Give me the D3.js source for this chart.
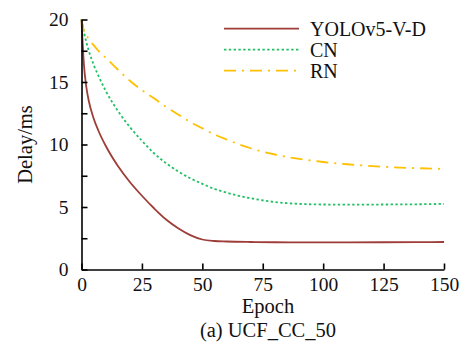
<!DOCTYPE html>
<html>
<head>
<meta charset="utf-8">
<script src="https://cdn.jsdelivr.net/npm/d3@7"></script>
<style>
  body { margin: 0; background: #fff; }
  svg { display: block; }
  text { font-family: "Liberation Serif", "Times New Roman", serif; fill: #111; }
</style>
</head>
<body>
<svg id="chart"></svg>
<script>
const width = 465;
const height = 343;

// epochs where each curve was read
const epochs = [0, 1, 2, 3, 5, 7, 10, 15, 20, 25, 30, 35, 40, 45, 50, 55, 60, 70, 80, 90, 100, 110, 125, 140, 150];

const yolo = [20, 16.4, 14.6, 13.5, 12.1, 11.1, 9.9, 8.3, 7.0, 5.9, 4.9, 4.0, 3.3, 2.75, 2.4, 2.28, 2.24, 2.2, 2.18, 2.17, 2.17, 2.17, 2.18, 2.19, 2.2];
const cn = [20, 19.0, 18.2, 17.5, 16.4, 15.5, 14.3, 12.7, 11.4, 10.3, 9.3, 8.5, 7.85, 7.3, 6.85, 6.45, 6.15, 5.7, 5.4, 5.25, 5.2, 5.19, 5.2, 5.22, 5.25];
const rn = [20, 19.1, 18.75, 18.45, 17.95, 17.5, 16.95, 16.0, 15.1, 14.35, 13.7, 13.0, 12.4, 11.8, 11.3, 10.8, 10.4, 9.7, 9.2, 8.85, 8.6, 8.42, 8.22, 8.1, 8.05];

const seriesNames = ["YOLOv5-V-D", "CN", "RN"];
const seriesColors = ["#9e3d38", "#22c064", "#ffc000"];
const seriesDash = [null, "2.4,2.4", "12,6,2,6"];

const xTicks = [0, 25, 50, 75, 100, 125, 150];
const yTicks = [0, 2.5, 5, 7.5, 10, 12.5, 15, 17.5, 20];

const svg = d3.select("#chart")
    .attr("width", width)
    .attr("height", height);

const x = d3.scaleLinear().domain([0, 150]).range([81.5, 444]);
const y = d3.scaleLinear().domain([0, 20]).range([269.5, 19.5]);

const line = d3.line()
    .x(d => x(d[0]))
    .y(d => y(d[1]))
    .curve(d3.curveMonotoneX);

const allSeries = [yolo, cn, rn];

allSeries.forEach((vals, i) => {
    svg.append("path")
        .datum(epochs.map((e, j) => [e, vals[j]]))
        .attr("d", line)
        .attr("fill", "none")
        .attr("stroke", seriesColors[i])
        .attr("stroke-width", 1.8)
        .attr("stroke-dasharray", seriesDash[i]);
});

// axes, ticks point inward
const xAxis = svg.append("g")
    .attr("transform", `translate(0,${y(0)})`)
    .call(d3.axisBottom(x).tickValues(xTicks).tickSizeInner(-6).tickSizeOuter(0).tickPadding(8));

const yAxis = svg.append("g")
    .attr("transform", `translate(${x(0)},0)`)
    .call(d3.axisLeft(y).tickValues(yTicks).tickSizeInner(-6).tickSizeOuter(0).tickPadding(13)
        .tickFormat(d => d % 5 === 0 ? d : ""));

[xAxis, yAxis].forEach(g => {
    g.selectAll("path, line").attr("stroke", "#000").attr("stroke-width", 1.6);
    g.selectAll("text")
        .style("font-family", "'Liberation Serif', 'Times New Roman', serif")
        .style("font-size", "19.5px")
        .attr("fill", "#111");
});

svg.append("text")
    .attr("x", 268)
    .attr("y", 313)
    .attr("text-anchor", "middle")
    .style("font-size", "20.5px")
    .text("Epoch");

svg.append("text")
    .attr("transform", `translate(32,${(y(0) + y(20)) / 2}) rotate(-90)`)
    .attr("text-anchor", "middle")
    .style("font-size", "20.5px")
    .text("Delay/ms");

svg.append("text")
    .attr("x", 268)
    .attr("y", 337)
    .attr("text-anchor", "middle")
    .style("font-size", "20.5px")
    .text("(a) UCF_CC_50");

// legend
const legend = svg.append("g");
seriesNames.forEach((name, i) => {
    const ly = 28.7 + i * 21;
    legend.append("line")
        .attr("x1", 224)
        .attr("x2", 299)
        .attr("y1", ly)
        .attr("y2", ly)
        .attr("stroke", seriesColors[i])
        .attr("stroke-width", 1.8)
        .attr("stroke-dasharray", seriesDash[i]);
    legend.append("text")
        .attr("x", 310)
        .attr("y", ly + 7.3)
        .style("font-size", "20px")
        .text(name);
});
</script>
</body>
</html>
